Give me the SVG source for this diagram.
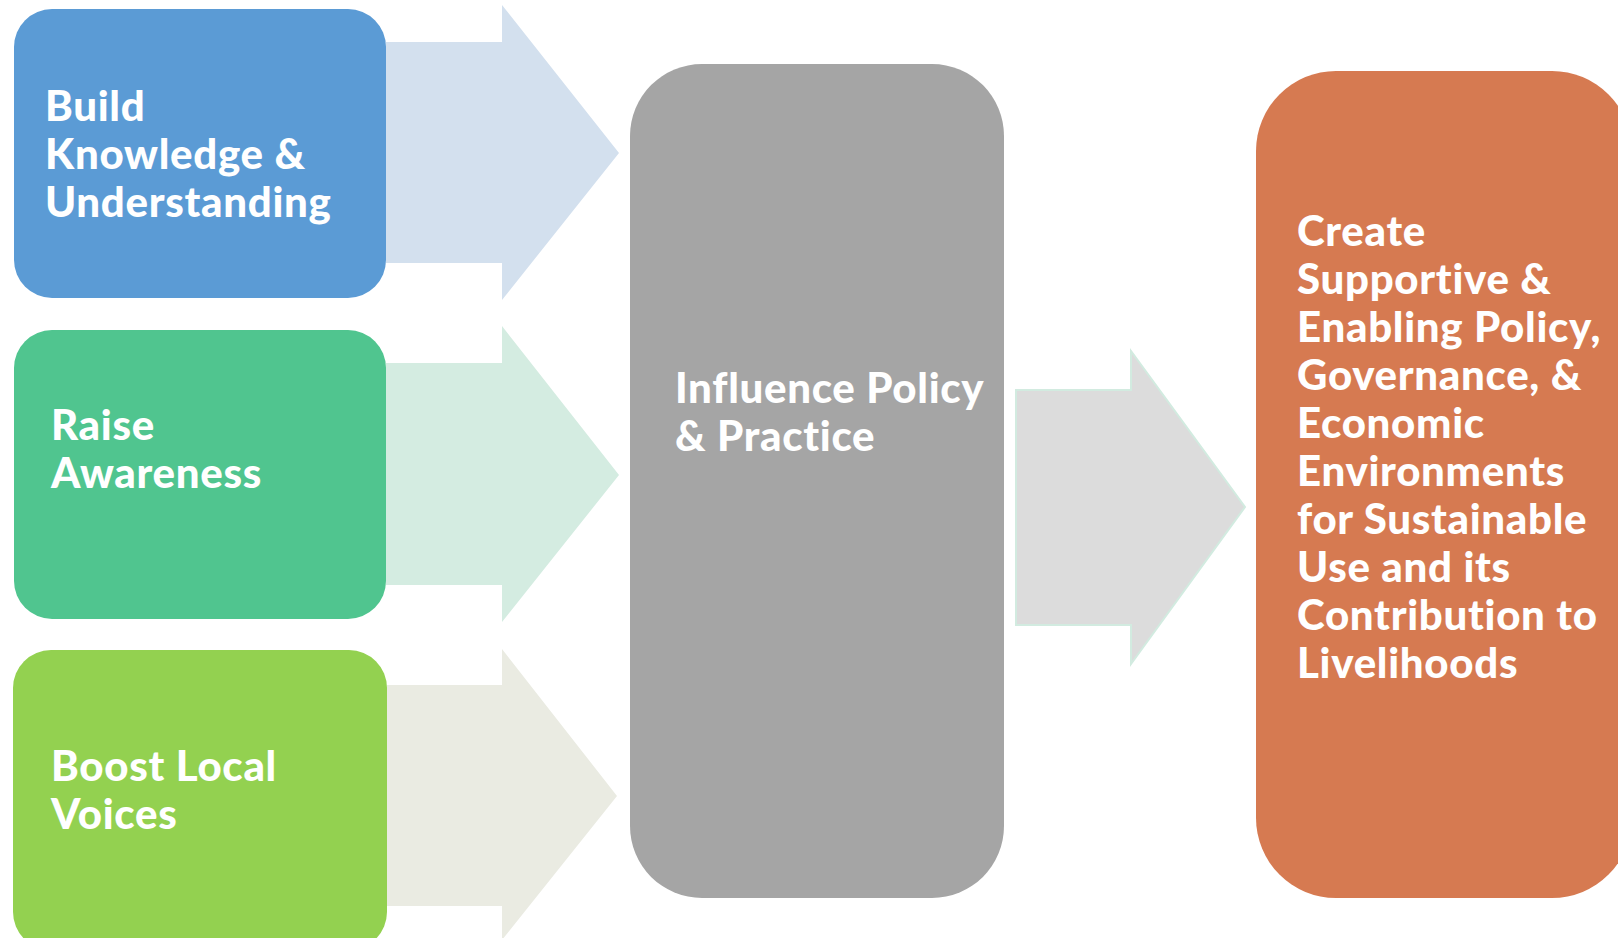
<svg xmlns="http://www.w3.org/2000/svg" width="1618" height="938" viewBox="0 0 1618 938">
<style>
  .lbl { font-family: Lato, "Open Sans", "Liberation Sans", sans-serif; font-weight: 900; font-size: 42px; letter-spacing: 0.7px; fill: #ffffff; }
  .arrow { stroke: none; }
</style>
<rect x="0" y="0" width="1618" height="938" fill="#ffffff"/>
<g id="connectors">
  <polygon class="arrow" fill="#d3e0ee" points="386,42 502,42 502,5 619,153 502,300 502,263 386,263"/>
  <polygon class="arrow" fill="#d4ece1" points="386,363 502,363 502,326 619,475 502,622 502,585 386,585"/>
  <polygon class="arrow" fill="#eaebe2" points="387,685 502,685 502,649 617,796 502,940 502,906 387,906"/>
  <polygon fill="#dcdcdc" stroke="#d2ebe0" stroke-width="2" points="1016,390 1131,390 1131,351 1245,507 1131,664 1131,625 1016,625"/>
</g>
<g id="node-build">
  <rect x="14" y="9" width="372" height="289" rx="38" ry="38" fill="#5b9bd5"/>
  <text class="lbl" x="45" y="121">Build</text>
  <text class="lbl" x="45" y="169">Knowledge &amp;</text>
  <text class="lbl" x="45" y="217">Understanding</text>
</g>
<g id="node-raise">
  <rect x="14" y="330" width="372" height="289" rx="38" ry="38" fill="#50c58f"/>
  <text class="lbl" x="51" y="440">Raise</text>
  <text class="lbl" x="51" y="488">Awareness</text>
</g>
<g id="node-boost">
  <rect x="13" y="650" width="374" height="300" rx="38" ry="38" fill="#93d150"/>
  <text class="lbl" x="51" y="781">Boost Local</text>
  <text class="lbl" x="51" y="829">Voices</text>
</g>
<g id="node-influence">
  <rect x="630" y="64" width="374" height="834" rx="72" ry="72" fill="#a5a5a5"/>
  <text class="lbl" x="675" y="403">Influence Policy</text>
  <text class="lbl" x="675" y="451">&amp; Practice</text>
</g>
<g id="node-create">
  <rect x="1256" y="71" width="376" height="827" rx="80" ry="80" fill="#d67a51"/>
  <text class="lbl" x="1297" y="246">Create</text>
  <text class="lbl" x="1297" y="294">Supportive &amp;</text>
  <text class="lbl" x="1297" y="342">Enabling Policy,</text>
  <text class="lbl" x="1297" y="390">Governance, &amp;</text>
  <text class="lbl" x="1297" y="438">Economic</text>
  <text class="lbl" x="1297" y="486">Environments</text>
  <text class="lbl" x="1297" y="534">for Sustainable</text>
  <text class="lbl" x="1297" y="582">Use and its</text>
  <text class="lbl" x="1297" y="630">Contribution to</text>
  <text class="lbl" x="1297" y="678">Livelihoods</text>
</g>
</svg>
